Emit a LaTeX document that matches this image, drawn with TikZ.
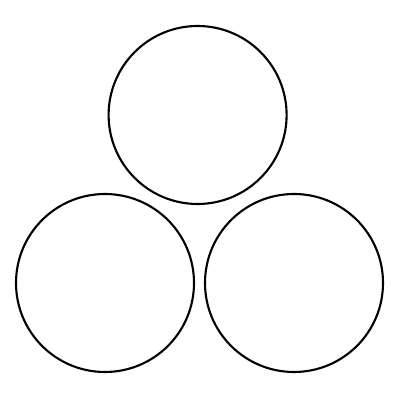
\documentclass[tikz,border=0pt]{standalone}
\usepackage{tikz}
\tikzset{ring/.style={draw,circle,line width=1.5pt,
                      minimum size=4.45cm,inner sep=0pt}}

\begin{document}
\begin{tikzpicture}

    \useasboundingbox (0,0) rectangle (10,10);

    % top circle
    \node[ring] (top) at (4.94,7.125) {};
    % bottom circles
    \node[ring] (left) at (2.625,2.925) {};
    \node[ring] (right) at (7.35,2.925) {};

\end{tikzpicture}
\end{document}
